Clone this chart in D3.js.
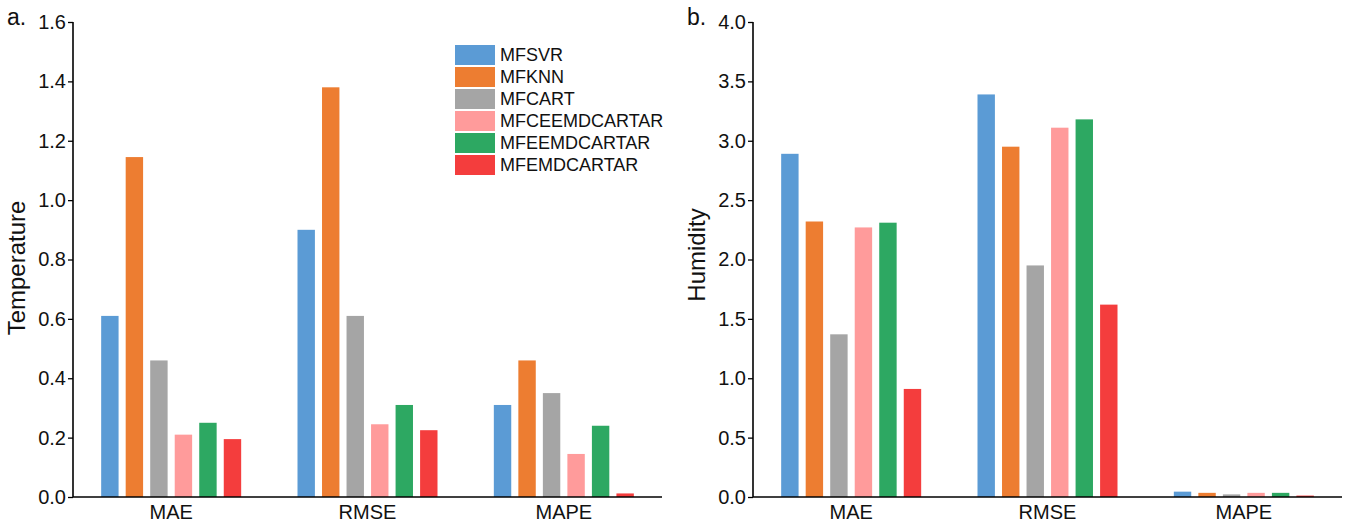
<!DOCTYPE html>
<html>
<head>
<meta charset="utf-8">
<script src="https://cdn.jsdelivr.net/npm/d3@7"></script>
<style>
  body { margin: 0; background: #fff; }
  svg { font-family: "Liberation Sans", Arial, sans-serif; }
</style>
</head>
<body>
<div id="chart"></div>
<script>
let metrics = ["MAE", "RMSE", "MAPE"];
let models = ["MFSVR", "MFKNN", "MFCART", "MFCEEMDCARTAR", "MFEEMDCARTAR", "MFEMDCARTAR"];
let colors = ["#5B9BD5", "#ED7D31", "#A5A5A5", "#FF9B9B", "#2DA862", "#F43D3D"];

// one row per model, values in metric order
let tempValues = [
    [0.61, 0.90, 0.31],
    [1.145, 1.38, 0.46],
    [0.46, 0.61, 0.35],
    [0.21, 0.245, 0.145],
    [0.25, 0.31, 0.24],
    [0.195, 0.225, 0.012]
];
let humValues = [
    [2.89, 3.39, 0.045],
    [2.32, 2.95, 0.035],
    [1.37, 1.95, 0.022],
    [2.27, 3.11, 0.035],
    [2.31, 3.18, 0.035],
    [0.91, 1.62, 0.012]
];
let tempTicks = [0, 0.2, 0.4, 0.6, 0.8, 1.0, 1.2, 1.4, 1.6];
let humTicks = [0, 0.5, 1.0, 1.5, 2.0, 2.5, 3.0, 3.5, 4.0];

let width = 1350;
let height = 525;

let svg = d3.select("#chart")
    .append("svg")
    .attr("width", width)
    .attr("height", height);

function drawPanel(opts) {
    let g = svg.append("g");
    let x0 = opts.left;
    let x1 = opts.right;
    let top = 22;
    let bottom = 497;

    let y = d3.scaleLinear()
        .domain([0, opts.max])
        .range([bottom, top]);

    let xGroup = d3.scaleBand()
        .domain(metrics)
        .range([x0, x1]);

    let xInner = d3.scaleBand()
        .domain(models)
        .range([-70, 70])
        .paddingInner(0.29);

    let rows = [];
    models.forEach(function (m, i) {
        metrics.forEach(function (k, j) {
            rows.push({ model: m, metric: k, value: opts.values[i][j], color: colors[i] });
        });
    });

    g.selectAll("rect.bar")
        .data(rows)
        .enter()
        .append("rect")
        .attr("class", "bar")
        .attr("x", (d) => xGroup(d.metric) + xGroup.bandwidth() / 2 + xInner(d.model))
        .attr("width", xInner.bandwidth())
        .attr("y", (d) => y(d.value))
        .attr("height", (d) => bottom - y(d.value))
        .attr("fill", (d) => d.color);

    let yAxis = d3.axisLeft(y)
        .tickValues(opts.ticks)
        .tickFormat(d3.format(".1f"))
        .tickSize(5)
        .tickPadding(2);

    let ya = g.append("g")
        .attr("transform", "translate(" + x0 + ",0)")
        .call(yAxis);
    ya.select(".domain").attr("stroke-width", 1.6).attr("d", "M0," + (top) + "V" + bottom);
    ya.selectAll(".tick line").attr("stroke-width", 1.3);
    ya.selectAll(".tick text")
        .attr("font-size", 20)
        .attr("fill", "#111");

    let xAxis = d3.axisBottom(xGroup).tickSize(0).tickPadding(8);
    let xa = g.append("g")
        .attr("transform", "translate(0," + bottom + ")")
        .call(xAxis);
    xa.select(".domain").attr("stroke-width", 1.6).attr("d", "M" + x0 + ",0H" + x1);
    xa.selectAll(".tick text")
        .attr("font-size", 20)
        .attr("fill", "#111");

    g.append("text")
        .attr("transform", "translate(" + (x0 - 48) + "," + opts.titleY + ") rotate(-90)")
        .attr("text-anchor", "middle")
        .attr("font-size", 24)
        .attr("fill", "#111")
        .text(opts.title);

    g.append("text")
        .attr("x", x0 - 66)
        .attr("y", 25)
        .attr("font-size", 23)
        .attr("fill", "#111")
        .text(opts.label);
}

drawPanel({ left: 73, right: 662, max: 1.6, ticks: tempTicks, values: tempValues,
    title: "Temperature", titleY: 268, label: "a." });
drawPanel({ left: 753, right: 1342, max: 4.0, ticks: humTicks, values: humValues,
    title: "Humidity", titleY: 255, label: "b." });

// legend
let legend = svg.append("g")
    .attr("transform", "translate(455,45)");

legend.selectAll("rect")
    .data(models)
    .enter()
    .append("rect")
    .attr("x", 0)
    .attr("y", (d, i) => i * 22)
    .attr("width", 40)
    .attr("height", 20)
    .attr("fill", (d, i) => colors[i]);

legend.selectAll("text")
    .data(models)
    .enter()
    .append("text")
    .attr("x", 45)
    .attr("y", (d, i) => i * 22 + 16)
    .attr("font-size", 18)
    .attr("fill", "#111")
    .text((d) => d);
</script>
</body>
</html>
